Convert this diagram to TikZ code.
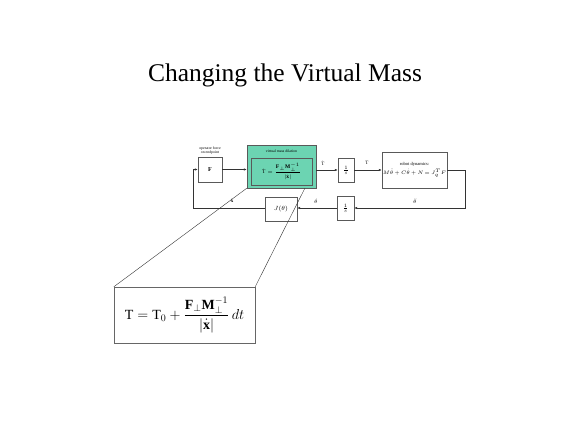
\documentclass[tikz,border=0pt]{standalone}
\usepackage{amsmath,amssymb}
\usepackage{fontspec}
\setmainfont{Liberation Serif}
\usepackage{tikz}
\usetikzlibrary{arrows.meta,positioning}
\definecolor{massgreen}{RGB}{108,212,178}

\begin{document}
\begin{tikzpicture}[x=1pt,y=-1pt,
  blk/.style={draw=black!65,fill=white,inner sep=0pt,font=\fontsize{6}{7}\selectfont},
  sig/.style={draw=black!80,line width=0.5pt,-{Latex[length=3pt,width=2.4pt]}},
  wire/.style={draw=black!80,line width=0.5pt},
  lbl/.style={font=\fontsize{5}{6}\selectfont,inner sep=1pt},
  blkcap/.style={font=\fontsize{3.8}{4.4}\selectfont,inner sep=0.5pt,align=center}]
  \useasboundingbox (0,0) rectangle (570,427);
  % title
  \node[font=\fontsize{25.5}{28}\selectfont] (title) at (285,75) {Changing the Virtual Mass};
  % operator force
  \node[blk,minimum width=24pt,minimum height=25pt] (force) at (210,169.5) {$\mathbf{F}$};
  \node[blkcap,above=1.5pt of force] (forcecap) {operator force\\on endpoint};
  % mass dilation
  \node[draw=black!65,fill=massgreen,minimum width=69pt,minimum height=43pt] (dil) at (281.5,166.5) {};
  \node[blkcap] (dilcap) at (281.5,151) {virtual mass dilation};
  \node[blk,fill=massgreen,minimum width=61pt,minimum height=27pt,font=\fontsize{5.5}{6}\selectfont] (dilrule) at (281.5,171.5)
    {$\dot{\mathrm{T}} = \dfrac{\mathbf{F}_\perp\mathbf{M}_\perp^{-1}}{|\dot{\mathbf{x}}|}$};
  % integrators
  \node[blk,minimum width=16pt,minimum height=24pt] (integ) at (346,170) {$\frac{1}{s}$};
  \node[blk,minimum width=17pt,minimum height=24pt] (integb) at (345.5,208) {$\frac{1}{s}$};
  % robot dynamics
  \node[blk,minimum width=65pt,minimum height=36pt,align=center,font=\fontsize{4.5}{5.5}\selectfont] (robot) at (414.5,170)
    {robot dynamics:\\[1pt] $M\ddot\theta{\,+\,}C\dot\theta{\,+\,}N{\,=\,}J_q^T F$};
  % jacobian
  \node[blk,minimum width=32pt,minimum height=24pt] (jac) at (281,209) {$J(\theta)$};
  % connectors
  \draw[sig] (force.east) -- (force.east -| dil.west);
  \draw[sig] (dil.east |- integ.west) -- (integ.west);
  \draw[sig] (integ.east) -- (robot.west);
  \coordinate (rcorner) at (465,208);
  \draw[sig] (robot.east) -| (rcorner) -- (integb.east);
  \draw[sig] (integb.west) -- (jac.east |- integb.west);
  \coordinate (lcorner) at (193,208);
  \draw[sig] (jac.west |- lcorner) -- (lcorner) |- (force.west);
  \node[lbl] (tdot) at (323,163) {$\dot{\mathrm{T}}$};
  \node[lbl] (tval) at (367,163) {$\mathrm{T}$};
  \node[lbl] (thddot) at (415,201) {$\ddot\theta$};
  \node[lbl] (thdot) at (316,201) {$\dot\theta$};
  \node[lbl] (xdot) at (232,201) {$\dot{\mathbf{x}}$};
  % zoomed rule
  \node[draw=black!60,fill=white,minimum width=141pt,minimum height=56pt,font=\fontsize{14}{16}\selectfont] (zoom) at (184.5,315)
    {$\mathrm{T} = \mathrm{T}_0 + \dfrac{\mathbf{F}_\perp\mathbf{M}_\perp^{-1}}{|\dot{\mathbf{x}}|}\,dt$};
  \coordinate (dilcut) at (305,188);
  \draw[wire,line width=0.4pt] (dil.south west) -- (zoom.north west);
  \draw[wire,line width=0.4pt] (dilcut) -- (zoom.north east);
\end{tikzpicture}
\end{document}
